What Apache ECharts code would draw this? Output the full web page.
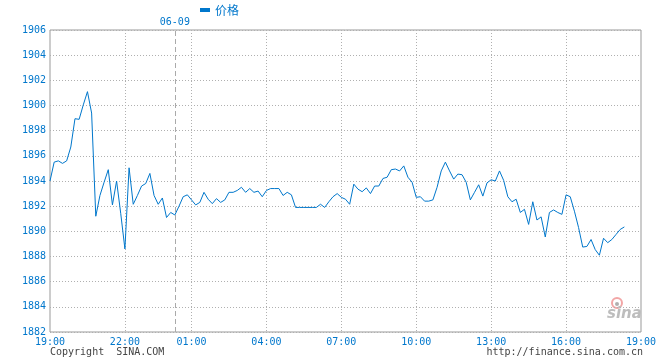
<!DOCTYPE html>
<html>
<head>
<meta charset="utf-8">
<script src="https://cdn.jsdelivr.net/npm/echarts@6/dist/echarts.min.js"></script>
<style>
html,body{margin:0;padding:0;background:#fff;}
#chart{width:660px;height:360px;}
</style>
</head>
<body>
<div id="chart"></div>
<script>
// ---- data ----
// trading sessions (10-minute steps); 00:10 and 00:20 are absent
const sessions = [['19:00', '00:00'], ['00:30', '19:00']];
const seriesName = '价格';
const dateMarker = '06-09';
const dateMarkerAt = '00:00';
const xTickLabels = ['19:00', '22:00', '01:00', '04:00', '07:00', '10:00', '13:00', '16:00', '19:00'];
const yMin = 1882, yMax = 1906, yStep = 2;
const priceValues = [
  1894.0, 1895.5, 1895.6, 1895.4, 1895.6, 1896.7, 1898.95, 1898.9, 1900.05, 1901.1,
  1899.4, 1891.2, 1892.85, 1893.9, 1894.9, 1892.1, 1894.0, 1891.4, 1888.6, 1895.05,
  1892.15, 1892.85, 1893.6, 1893.8, 1894.6, 1892.85, 1892.15, 1892.65, 1891.1, 1891.5,
  1891.3, 1892.0, 1892.75, 1892.9, 1892.5, 1892.1, 1892.3, 1893.1, 1892.55, 1892.2,
  1892.6, 1892.3, 1892.5, 1893.1, 1893.1, 1893.25, 1893.5, 1893.1, 1893.4, 1893.1,
  1893.2, 1892.75, 1893.25, 1893.4, 1893.4, 1893.4, 1892.85, 1893.1, 1892.9, 1891.9,
  1891.9, 1891.9, 1891.9, 1891.9, 1891.9, 1892.15, 1891.9, 1892.35, 1892.75, 1893.0,
  1892.7, 1892.55, 1892.15, 1893.75, 1893.35, 1893.15, 1893.45, 1893.0, 1893.6, 1893.6,
  1894.2, 1894.3, 1894.9, 1894.95, 1894.8, 1895.2, 1894.3, 1893.9, 1892.7, 1892.75,
  1892.4, 1892.4, 1892.5, 1893.5, 1894.8, 1895.5, 1894.8, 1894.15, 1894.55, 1894.5,
  1893.9, 1892.5, 1893.1, 1893.7, 1892.8, 1893.85, 1894.1, 1894.0, 1894.8, 1894.05,
  1892.75, 1892.35, 1892.55, 1891.5, 1891.75, 1890.55, 1892.35, 1890.9, 1891.15, 1889.55,
  1891.5, 1891.7, 1891.5, 1891.35, 1892.9, 1892.75, 1891.6, 1890.3, 1888.75, 1888.8,
  1889.35, 1888.55, 1888.1, 1889.45, 1889.1, 1889.35, 1889.75, 1890.15, 1890.35
];

// ---- build category axis (times) ----
function toMin(s){const p=s.split(':');return (+p[0])*60+(+p[1]);}
function toStr(m){m=((m%1440)+1440)%1440;const h=Math.floor(m/60),mm=m%60;return (h<10?'0':'')+h+':'+(mm<10?'0':'')+mm;}
const categories = [];
sessions.forEach(function(s){
  let a=toMin(s[0]), b=toMin(s[1]); if (b<=a) b+=1440;
  for (let m=a;m<=b;m+=10) categories.push(toStr(m));
});
// tick indices: search sequentially so the repeated 19:00 maps to both ends
const tickIdx = [];
let from = 0;
xTickLabels.forEach(function(l){
  for (let i=from;i<categories.length;i++){ if (categories[i]===l){ tickIdx.push(i); from=i+1; break; } }
});
const markerIdx = categories.indexOf(dateMarkerAt);

const BLUE = '#0077cc';
const MONO = '"DejaVu Sans Mono", "Liberation Mono", monospace';

const chart = echarts.init(document.getElementById('chart'), null, {renderer:'canvas'});
chart.setOption({
  animation:false,
  backgroundColor:'#fff',
  legend:{
    data:[seriesName], left:200, top:4, padding:0, icon:'rect', itemWidth:10, itemHeight:4, itemGap:10,
    textStyle:{color:BLUE, fontSize:12, fontFamily:'"Noto Sans CJK SC", sans-serif'}
  },
  grid:{left:50, top:30, width:591, height:302, show:true, borderColor:'#999', borderWidth:1, containLabel:false},
  xAxis:{
    type:'category', data:categories, boundaryGap:false,
    axisLine:{show:false}, axisTick:{show:false},
    axisLabel:{
      interval:function(i){return tickIdx.indexOf(i)>=0;},
      formatter:function(v){return v;},
      color:BLUE, fontSize:10, fontFamily:MONO, margin:5, showMaxLabel:true, showMinLabel:true
    },
    splitLine:{show:true, interval:function(i){return tickIdx.indexOf(i)>0 && i<categories.length-1;}, lineStyle:{color:'#b0b0b0', width:1, type:[1,2]}}
  },
  yAxis:{
    type:'value', min:yMin, max:yMax, interval:yStep,
    axisLine:{show:false}, axisTick:{show:false},
    axisLabel:{color:BLUE, fontSize:10, fontFamily:MONO, margin:4, formatter:function(v){return String(v);}},
    splitLine:{show:true, lineStyle:{color:'#b0b0b0', width:1, type:[1,2]}}
  },
  series:[{
    name:seriesName, type:'line', data:priceValues, showSymbol:false, symbol:'none',
    lineStyle:{color:BLUE, width:1}, itemStyle:{color:BLUE},
    markLine:{
      silent:true, symbol:['none','none'],
      lineStyle:{color:'#aaaaaa', width:1, type:[5,3]},
      label:{show:true, position:'end', formatter:dateMarker, color:BLUE, fontSize:10, fontFamily:MONO, distance:3},
      data:[{xAxis:markerIdx}]
    }
  }],
  graphic:[
    {type:'text', left:50, top:347, style:{text:'Copyright  SINA.COM', fill:'#444', font:'10px ' + MONO}},
    {type:'text', right:17, top:347, style:{text:'http://finance.sina.com.cn', fill:'#444', font:'10px ' + MONO}},
    {type:'circle', shape:{cx:617, cy:303, r:5}, style:{fill:'none', stroke:'#f2a6a6', lineWidth:2}},
    {type:'circle', shape:{cx:617, cy:304, r:2}, style:{fill:'#b0b0b0'}},
    {type:'text', left:607, top:307, style:{text:'sina', fill:'#bdbdbd', font:'italic bold 15px "DejaVu Sans", sans-serif'}}
  ]
});
</script>
</body>
</html>
